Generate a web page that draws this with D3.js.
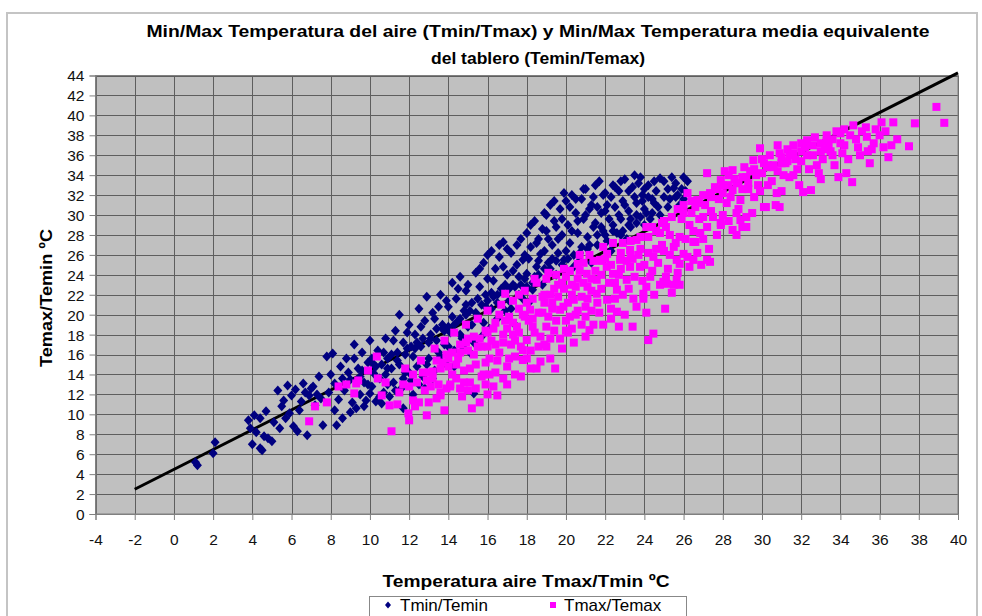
<!DOCTYPE html>
<html><head><meta charset="utf-8">
<script src="https://cdn.jsdelivr.net/npm/d3@7"></script>
<style>body{margin:0;background:#fff;overflow:hidden}svg{display:block}</style>
</head><body><svg id="c" width="982" height="616"></svg>
<script>
const titleLines = ["Min/Max Temperatura del aire (Tmin/Tmax) y Min/Max Temperatura media equivalente", "del tablero (Temin/Temax)"];
const xAxisTitle = "Temperatura aire Tmax/Tmin ºC";
const yAxisTitle = "Temax/Temin ºC";
const seriesNames = ["Tmin/Temin", "Tmax/Temax"];
const xTickValues = [-4,-2,0,2,4,6,8,10,12,14,16,18,20,22,24,26,28,30,32,34,36,38,40];
const yTickValues = [0,2,4,6,8,10,12,14,16,18,20,22,24,26,28,30,32,34,36,38,40,42,44];

// Tmin (x) vs Temin (y)
const tminTemin = [
[1.1,5.2],[1.2,4.9],[2.0,6.1],[2.1,7.2],
[3.8,9.4],[3.9,8.6],[4.0,7.0],[4.1,9.9],[4.2,8.2],[4.4,6.6],[4.5,6.4],[4.6,7.8],[4.8,7.6],[5.0,7.3],[5.1,9.2],[4.4,9.6],[4.7,10.3],
[5.3,12.4],[5.4,8.6],[5.5,10.8],[5.6,11.4],[5.8,12.9],[5.9,10.1],[6.0,11.9],[6.1,8.8],[6.3,8.3],[6.2,12.5],[6.4,10.4],[6.5,11.3],[6.6,13.1],[6.8,7.9],[6.9,11.9],[7.0,12.6],[7.1,12.8],[7.2,10.9],[7.4,13.8],[7.5,11.6],[7.6,8.9],[7.8,15.8],[7.9,12.2],[8.0,14.0],[8.1,16.1],[8.2,13.1],[8.3,8.9],[8.4,11.5],[8.5,14.8],[8.7,12.4],[8.8,15.6],[9.0,13.5],[9.1,11.2],[9.2,17.0],[9.3,10.6],[9.4,14.6],[9.5,12.0],[9.6,16.2],[9.7,13.2],[9.8,11.4],[9.9,15.2],[10.0,17.4],[10.0,12.1],[10.1,12.8],[10.2,14.1],[10.3,11.3],[10.4,16.4],[10.5,13.6],[10.6,15.0],[10.6,11.1],[10.7,12.2],[10.8,17.6],[10.9,14.6],[11.0,11.8],[11.1,16.0],[11.2,13.2],[11.3,18.4],[11.4,15.4],[11.5,20.0],[11.6,12.6],[11.7,17.2],[11.7,10.6],[11.8,14.2],[11.9,16.6],[12.0,19.0],[12.1,13.4],[12.2,15.8],[12.2,12.0],[12.3,18.0],[12.4,14.8],[12.5,20.6],[12.6,16.8],[12.7,13.8],[12.8,19.4],[12.8,12.6],[12.9,21.8],[13.0,15.6],[13.1,17.6],[13.2,20.2],[13.3,14.4],[13.4,18.6],[13.5,16.2],[13.6,22.0],[13.7,19.0],[13.8,17.0],[13.9,15.0],[14.0,20.8],[14.1,18.2],[14.2,23.2],[14.3,16.4],[14.4,21.6],[14.5,19.4],[14.6,23.8],[14.7,17.6],[14.8,20.4],[14.9,22.4],[15.0,18.8],[15.1,16.2],[15.2,21.2],[15.3,12.1],[15.4,24.2],[15.5,19.8],[15.6,22.8],[15.7,17.8],[15.8,25.2],[15.9,20.8],[16.0,23.6],[16.1,18.6],[16.2,26.4],[16.3,21.8],[16.4,24.6],[16.5,19.6],[16.6,25.8],[16.7,22.6],[16.8,27.3],[16.9,20.4],[17.0,24.0],[17.1,21.4],[17.2,26.2],[17.3,23.0],[17.4,19.0],[17.5,25.0],[17.6,22.0],[17.7,27.6],[17.8,25.5],[17.9,23.6],[18.0,28.2],[18.0,24.1],[18.1,21.2],[18.2,26.8],[18.3,22.5],[18.4,29.4],[18.5,24.8],[18.6,27.6],[18.7,26.1],[18.8,23.0],[18.9,30.2],[19.0,28.4],[19.1,25.2],[19.2,31.0],[19.3,27.0],[19.4,29.4],[19.5,24.0],[19.6,26.2],[19.7,30.6],[19.8,28.0],[19.9,25.5],[20.0,31.4],[20.1,29.0],[20.2,27.2],[20.3,32.0],[20.4,24.8],[20.5,30.2],[20.6,28.2],[20.7,26.2],[20.8,31.6],[20.9,29.6],[21.0,32.6],[21.1,27.8],[21.2,30.6],[21.3,25.2],[21.4,31.8],[21.5,29.2],[21.6,27.0],[21.7,33.4],[21.8,30.2],[21.9,28.4],[22.0,32.2],[22.1,31.0],[22.2,29.6],[22.3,26.4],[22.4,33.0],[22.5,30.8],[22.6,28.2],[22.7,32.4],[22.8,29.6],[22.9,31.4],[23.0,33.6],[23.1,27.6],[23.2,30.4],[23.3,28.8],[23.4,32.8],[23.5,34.0],[23.6,31.2],[23.7,33.2],[23.8,29.8],[23.9,32.0],[24.0,30.6],[24.1,30.2],[24.2,33.0],[24.4,31.6],[24.5,31.2],[24.6,32.4],[24.8,33.7],[25.0,31.8],[25.2,32.6],[25.5,32.7],[25.6,33.2],[25.8,31.0],[26.0,33.8],[26.1,32.4],
[8.2,10.4],[8.6,13.6],[8.9,14.2],[9.0,10.2],[9.2,15.6],[9.5,13.8],[9.7,10.8],[9.9,13.0],[10.1,15.6],[10.3,14.8],[10.5,11.8],[10.7,16.2],[10.9,13.0],[11.1,14.6],[11.3,12.4],[11.5,15.0],[11.7,13.6],[11.9,18.2],[12.0,14.2],[12.3,16.6],[12.5,13.0],[12.6,18.8],[12.9,15.0],[13.0,17.2],[13.2,13.6],[13.3,19.6],[13.5,20.8],[13.6,15.8],[13.8,18.4],[13.9,21.4],[14.0,16.8],[14.2,19.8],[14.3,14.8],[14.5,22.6],[14.6,18.0],[14.8,16.6],[14.9,21.0],[15.0,23.0],[15.2,19.0],[15.3,17.2],[15.5,21.6],[15.6,24.6],[15.8,19.2],[15.9,22.0],[16.0,26.0],[16.2,20.6],[16.3,23.4],[16.5,22.0],[16.6,27.0],[16.8,24.8],[16.9,23.0],[17.0,26.6],[17.2,20.6],[17.3,24.4],[17.5,27.0],[17.6,23.8],[17.8,21.6],[17.9,26.0],[18.1,25.6],[18.2,29.0],[18.4,23.8],[18.5,27.2],[18.6,25.4],[18.8,28.6],[18.9,26.4],[19.0,30.0],[19.1,27.6],[19.3,25.6],[19.4,31.4],[19.5,28.8],[19.6,27.6],[19.8,29.6],[19.9,32.2],[20.0,26.4],[20.2,30.8],[20.3,28.4],[20.5,31.6],[20.6,29.4],[20.7,25.4],[20.9,32.6],[21.0,30.0],[21.1,26.6],[21.3,31.0],[21.4,28.8],[21.5,33.0],[21.6,30.8],[21.8,28.8],[21.9,32.0],[22.0,30.4],[22.1,27.4],[22.3,31.8],[22.4,29.0],[22.5,32.8],[22.7,30.0],[22.8,33.4],[22.9,28.4],[23.0,31.0],[23.2,32.4],[23.3,29.6],[23.5,31.8],[23.6,30.0],[23.8,33.8],[23.9,31.4],[24.0,32.6],[24.2,31.8],[24.3,29.6],[24.5,33.4],[24.7,30.8],[25.0,33.4],[25.3,31.6],[25.4,33.8],[25.7,32.0],[9.6,14.4],[10.8,14.0],[11.2,17.4],[7.3,12.0],[6.7,12.2],[5.7,9.6],[8.6,9.6],
[10.2,15.0],[10.9,15.6],[11.4,16.2],[11.8,16.0],[12.1,16.8],[12.4,17.2],[12.7,17.6],[13.1,18.0],[13.4,17.4],[13.7,18.6],[14.0,18.8],[14.3,19.0],[14.6,19.6],[14.9,20.0],[15.1,20.4],[15.4,20.2],[15.7,21.0],[16.0,21.4],[16.2,22.2],[16.5,21.2],[16.8,22.2],[17.1,22.6],[17.4,22.8],[17.7,23.0],[18.0,22.8],[18.3,23.2],[18.6,24.0],[18.9,24.6],[19.2,24.6],[19.5,25.4],[19.8,25.0],[20.1,25.6],[20.4,26.0],[20.8,26.8],[21.2,27.0],[21.6,28.0],[22.0,28.0],[22.4,28.4],[22.8,28.0],[23.2,29.0],[23.6,29.2],[24.0,29.0],[24.4,30.2],[24.8,30.0],[25.2,30.8],[25.6,31.8],[25.9,32.6],[26.2,33.4],[26.0,31.6]
];

// Tmax (x) vs Temax (y)
const tmaxTemax = [
[6.9,9.3],[7.2,10.8],[8.4,12.8],[9.2,12.1],[9.3,13.1],[9.4,13.4],[10.35,15.8],[10.4,13.6],[10.6,11.9],[11.0,10.9],[11.1,8.3],[11.5,12.2],[11.8,14.6],[11.96,10.1],[12.2,11.4],[12.3,10.8],[12.4,13.2],[12.6,15.4],[12.9,9.9],[12.8,12.4],[13.0,14.2],[13.1,12.8],[13.2,14.3],[13.3,16.6],[13.4,11.6],[13.5,13.0],[13.6,11.9],[13.7,15.2],[13.8,17.4],[13.9,12.6],[14.0,14.8],[14.09,12.8],[14.2,16.2],[14.2,14.0],[14.3,18.2],[14.4,13.6],[14.5,15.6],[14.6,17.0],[14.7,11.8],[14.8,14.4],[14.9,19.0],[15.0,16.4],[15.0,12.4],[15.1,13.2],[15.2,10.6],[15.3,17.8],[15.4,15.0],[15.5,19.6],[15.6,11.2],[15.7,16.8],[15.8,14.0],[15.9,18.4],[15.9,15.2],[16.0,20.4],[16.1,15.6],[16.2,17.4],[16.3,12.8],[16.4,19.2],[16.4,14.2],[16.5,11.9],[16.6,16.2],[16.7,21.0],[16.8,18.0],[16.8,13.6],[16.9,22.1],[17.0,14.8],[17.1,19.8],[17.2,17.0],[17.3,21.4],[17.4,15.8],[17.5,18.8],[17.6,20.6],[17.6,18.2],[17.7,13.8],[17.8,16.45],[17.8,15.45],[17.9,22.4],[18.0,17.45],[18.1,19.4],[18.17,20.5],[18.2,14.6],[18.3,21.6],[18.4,18.2],[18.5,23.2],[18.6,16.8],[18.7,15.3],[18.8,20.2],[18.9,22.0],[18.9,17.0],[19.0,18.8],[19.1,24.2],[19.2,17.6],[19.3,21.2],[19.4,22.6],[19.45,14.6],[19.5,19.4],[19.6,23.0],[19.7,20.5],[19.8,16.6],[19.87,20.8],[19.9,24.6],[20.0,23.8],[20.1,18.2],[20.2,19.8],[20.3,22.0],[20.4,21.5],[20.5,22.8],[20.6,25.1],[20.6,20.4],[20.7,26.0],[20.8,19.0],[20.9,23.2],[21.0,20.8],[21.06,24.1],[21.1,21.6],[21.2,18.45],[21.3,22.4],[21.4,25.4],[21.57,23.5],[21.57,22.1],[21.7,20.2],[21.74,25.5],[21.8,24.0],[21.9,26.8],[22.08,24.8],[22.1,21.5],[22.1,26.1],[22.3,19.6],[22.4,24.1],[22.5,23.2],[22.6,20.3],[22.6,22.5],[22.76,25.5],[22.9,27.2],[23.1,23.5],[23.27,24.8],[23.27,26.5],[23.4,18.8],[23.4,25.6],[23.44,21.6],[23.6,27.5],[23.78,24.8],[23.8,27.8],[23.95,21.6],[23.95,22.1],[24.1,22.8],[24.1,28.8],[24.2,17.45],[24.2,26.2],[24.3,23.8],[24.46,25.8],[24.46,18.1],[24.6,26.6],[24.8,28.2],[24.9,27.0],[24.97,23.3],[25.06,20.6],[25.1,23.8],[25.1,28.8],[25.14,23.1],[25.3,26.0],[25.5,23.0],[25.5,26.8],[25.65,25.5],[25.65,23.5],[25.8,25.1],[25.8,27.8],[26.0,26.1],[26.0,30.2],[26.2,32.2],[26.3,24.8],[26.3,29.0],[26.5,25.5],[26.5,27.3],[26.6,30.8],[26.6,27.3],[26.7,31.5],[26.85,28.2],[27.0,29.8],[27.2,34.2],[27.2,28.8],[27.2,25.5],[27.35,25.3],[27.35,32.2],[27.5,29.8],[27.9,33.5],[27.9,29.2],[27.9,29.0],[28.0,33.0],[28.2,31.2],[28.3,34.0],[28.5,34.5],[28.5,32.5],[28.5,28.5],[28.7,30.2],[28.8,33.2],[28.9,31.5],[28.9,29.5],[29.0,28.8],[29.0,32.6],[29.2,33.8],[29.2,29.8],[29.2,28.8],[29.4,34.4],[29.56,35.5],[29.6,31.8],[29.8,33.0],[29.9,36.7],[30.0,35.6],[30.1,30.8],[30.2,30.8],[30.25,34.8],[30.4,36.0],[30.5,33.4],[30.7,31.0],[30.75,32.2],[30.8,34.4],[30.9,36.2],[30.9,30.8],[31.0,35.8],[31.2,35.2],[31.3,36.6],[31.4,33.8],[31.6,37.0],[31.6,34.0],[31.8,34.6],[31.9,33.0],[32.0,35.4],[32.1,32.3],[32.2,36.8],[32.3,37.5],[32.5,32.5],[32.6,36.0],[32.8,35.0],[32.9,34.2],[33.0,37.2],[33.2,36.6],[33.3,38.0],[33.5,36.4],[33.6,37.6],[33.7,35.0],[33.9,33.8],[34.0,38.2],[34.2,37.0],[34.2,38.6],[34.4,35.6],[34.6,33.3],[34.66,39.0],[34.8,37.6],[34.9,36.8],[35.1,38.4],[35.35,37.85],[35.4,36.4],[35.5,35.2],[35.7,37.2],[35.8,38.6],[36.0,38.0],[36.1,39.3],[36.2,36.8],[36.45,35.8],[36.7,39.3],[36.9,37.6],[37.5,36.9],[37.8,39.2],[38.9,40.85],[39.3,39.25],
[11.4,11.0],[11.7,13.0],[12.0,12.8],[12.5,11.2],[12.7,14.2],[13.0,11.2],[13.2,13.6],[13.6,14.6],[13.9,16.0],[14.1,13.0],[14.4,15.0],[14.6,12.6],[14.9,17.2],[15.1,14.6],[15.3,16.0],[15.4,12.6],[15.6,17.6],[15.7,13.8],[16.0,16.8],[16.1,14.0],[16.3,18.6],[16.5,15.4],[16.6,20.0],[16.8,17.2],[17.0,18.6],[17.1,15.6],[17.3,19.2],[17.4,17.4],[17.6,22.0],[17.7,16.8],[17.9,19.8],[18.0,21.2],[18.2,16.4],[18.3,18.8],[18.4,23.6],[18.6,20.2],[18.7,17.8],[18.9,21.2],[19.0,23.6],[19.1,19.8],[19.2,22.0],[19.4,18.4],[19.5,24.0],[19.6,21.8],[19.7,17.6],[19.9,22.6],[20.0,19.4],[20.1,21.2],[20.2,24.4],[20.3,18.6],[20.5,20.0],[20.6,23.6],[20.8,21.8],[20.9,25.2],[21.0,19.8],[21.1,22.8],[21.2,26.0],[21.3,20.4],[21.5,24.4],[21.6,21.2],[21.8,22.6],[21.9,19.0],[22.0,25.6],[22.2,23.2],[22.3,20.6],[22.4,27.2],[22.5,21.6],[22.7,24.0],[22.8,26.2],[22.9,22.0],[23.0,20.0],[23.1,25.4],[23.2,22.6],[23.3,27.4],[23.5,23.8],[23.6,20.8],[23.7,26.0],[23.9,23.4],[24.0,25.0],[24.1,20.2],[24.2,27.8],[24.4,24.4],[24.5,22.0],[24.6,28.4],[24.7,25.2],[24.8,23.0],[24.9,29.2],[25.0,26.4],[25.2,24.6],[25.3,28.0],[25.4,22.2],[25.6,27.2],[25.7,24.2],[25.9,29.6],[26.1,27.6],[26.2,25.8],[26.4,30.2],[26.5,28.4],[26.7,26.2],[26.8,29.6],[27.0,27.6],[27.1,31.0],[27.3,26.6],[27.4,30.4],[27.6,32.8],[27.7,28.0],[27.8,31.6],[28.0,30.0],[28.1,34.4],[28.3,29.4],[28.4,31.8],[28.6,33.6],[28.8,30.6],[29.1,34.8],[29.3,32.6],[29.5,30.2],[29.7,34.0],[29.9,32.4],[30.1,35.2],[30.3,33.0],[30.6,35.0],[30.8,37.0],[31.1,34.0],[31.4,36.0],[31.7,35.6],[32.0,37.2],[32.4,34.6],[32.7,37.8],[33.1,35.6],[33.4,37.0],[33.8,38.4],[34.1,36.2],[34.5,38.0],[35.0,36.0],[35.3,38.8],[35.6,36.6],[36.3,38.4],[36.6,37.0],[34.3,34.2],[33.0,33.6],[31.0,32.4],[28.7,28.0],[26.9,25.0],[25.8,23.0],[22.7,18.8],[21.4,19.0],[20.4,17.2],[19.2,15.6],[18.5,14.6],[17.0,13.0],[16.0,12.0],[13.8,10.4],[12.0,9.4],[9.9,14.4],[8.8,13.0],[10.8,13.2],[7.8,11.2],
[24.4,28.8],[25.0,29.4],[25.4,29.8],[25.7,30.6],[26.0,31.0],[26.4,31.4],[26.8,31.2],[27.0,32.0],[27.4,31.8],[27.7,32.6],[28.0,32.2],[28.3,33.0],[28.7,33.2],[29.0,33.8],[29.3,33.2],[29.6,34.6],[30.0,34.2],[30.3,35.0],[30.6,34.8],[31.0,35.2],[31.3,35.4],[31.6,36.2],[32.0,36.4],[32.3,36.0],[32.6,37.0],[33.0,36.4],[33.3,37.4],[33.6,36.0],[34.0,37.2],
[12.2,14.0],[12.9,13.4],[13.4,15.4],[14.0,15.6],[14.6,16.2],[15.0,17.6],[15.5,16.8],[16.0,18.2],[16.4,17.0],[16.9,19.4],[17.3,18.0],[17.8,20.0],[18.3,19.6],[18.8,21.8],[19.3,20.6],[19.8,23.2],[20.3,23.0],[20.7,24.4],[21.3,23.6],[21.8,25.4],[22.3,25.0],[22.8,24.6],[23.3,26.0],[23.8,26.6],[13.6,12.2],[14.8,13.2],[15.9,13.0],[17.4,14.0],[18.0,15.6],[19.0,16.8],[20.0,18.4],[21.0,17.8]
];

// straight reference line (endpoints)
const refLine = [[-2,2.48],[40,44.27]];

const colors = {tmin:"#000080", tmax:"#ff00ff"};

const svg = d3.select("#c");
const x = d3.scaleLinear().domain([-4,40]).range([95.5,958]);
const y = d3.scaleLinear().domain([0,44]).range([514,75.5]);
const font = "'Liberation Sans', Arial, sans-serif";

// outer chart border
svg.append("rect").attr("x",7).attr("y",13).attr("width",970).attr("height",640)
  .attr("fill","#fff").attr("stroke","#c4c4c4").attr("stroke-width",2);

// title
svg.append("g").selectAll("text").data(titleLines).join("text")
  .attr("x",538).attr("y",(d,i)=>37+i*27)
  .attr("text-anchor","middle").attr("font-family",font).attr("font-weight","bold")
  .attr("font-size",17).attr("fill","#000")
  .attr("textLength",(d,i)=>i===0?783:214).attr("lengthAdjust","spacingAndGlyphs")
  .text(d=>d);

// plot background
svg.append("rect").attr("x",x(-4)).attr("y",y(44)).attr("width",x(40)-x(-4)).attr("height",y(0)-y(44))
  .attr("fill","#c0c0c0");

// grid
const grid = svg.append("g").attr("stroke","#5e5e5e").attr("stroke-width",1);
grid.selectAll(".h").data(yTickValues).join("line")
  .attr("x1",x(-4)).attr("x2",x(40)).attr("y1",d=>Math.round(y(d))+0.5).attr("y2",d=>Math.round(y(d))+0.5);
grid.selectAll(".v").data(xTickValues).join("line")
  .attr("y1",y(0)).attr("y2",y(44)).attr("x1",d=>Math.round(x(d))+0.5).attr("x2",d=>Math.round(x(d))+0.5);

// plot border
svg.append("rect").attr("x",x(-4)).attr("y",y(44)).attr("width",x(40)-x(-4)).attr("height",y(0)-y(44))
  .attr("fill","none").attr("stroke","#808080").attr("stroke-width",1);

// axes
const xAxis = svg.append("g").attr("transform",`translate(0,${y(0)})`)
  .call(d3.axisBottom(x).tickValues(xTickValues).tickSize(6).tickPadding(14).tickFormat(d3.format("d")));
const yAxis = svg.append("g").attr("transform",`translate(${x(-4)},0)`)
  .call(d3.axisLeft(y).tickValues(yTickValues).tickSize(6).tickPadding(5).tickFormat(d3.format("d")));
[xAxis,yAxis].forEach(a=>{
  a.select(".domain").attr("stroke","#808080");
  a.selectAll(".tick line").attr("stroke","#808080");
  a.selectAll(".tick text").attr("font-family",font).attr("font-size",15.5).attr("fill","#111");
});
xAxis.selectAll(".tick text").text(d=>d<0?"-"+Math.abs(d):d);
yAxis.selectAll(".tick text").attr("dy","0.35em");

// axis titles
svg.append("text").attr("x",526).attr("y",587).attr("text-anchor","middle")
  .attr("font-family",font).attr("font-weight","bold").attr("font-size",17)
  .attr("textLength",287).attr("lengthAdjust","spacingAndGlyphs").text(xAxisTitle);
svg.append("text").attr("transform","translate(52,298) rotate(-90)").attr("text-anchor","middle")
  .attr("font-family",font).attr("font-weight","bold").attr("font-size",17)
  .attr("textLength",138).attr("lengthAdjust","spacingAndGlyphs").text(yAxisTitle);

// reference line
svg.append("path").datum(refLine)
  .attr("d",d3.line().x(d=>x(d[0])).y(d=>y(d[1])))
  .attr("stroke","#000").attr("stroke-width",3).attr("fill","none");

// series
const diamond = "M0,-5L4.5,0L0,5L-4.5,0Z";
svg.append("g").selectAll("path").data(tminTemin).join("path")
  .attr("d",diamond).attr("transform",d=>`translate(${x(d[0])},${y(d[1])})`)
  .attr("fill",colors.tmin);
svg.append("g").selectAll("rect").data(tmaxTemax).join("rect")
  .attr("x",d=>x(d[0])-4).attr("y",d=>y(d[1])-4).attr("width",8).attr("height",8)
  .attr("fill",colors.tmax);

// legend
const lg = svg.append("g");
lg.append("rect").attr("x",369.5).attr("y",596.5).attr("width",317).attr("height",40)
  .attr("fill","#fff").attr("stroke","#888");
lg.append("path").attr("d","M0,-3.5L3,0L0,3.5L-3,0Z").attr("transform","translate(388,605)").attr("fill",colors.tmin);
lg.append("rect").attr("x",550).attr("y",602).attr("width",6).attr("height",6).attr("fill",colors.tmax);
lg.append("text").attr("x",400).attr("y",611).attr("font-family",font).attr("font-size",17).text(seriesNames[0]);
lg.append("text").attr("x",564).attr("y",611).attr("font-family",font).attr("font-size",17).text(seriesNames[1]);
</script>
</body></html>
